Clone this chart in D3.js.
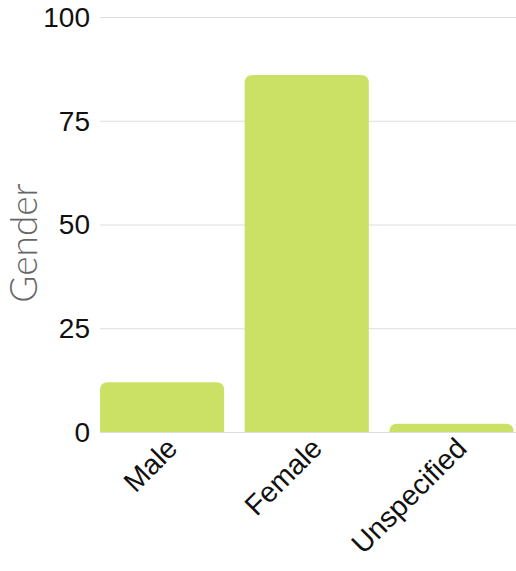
<!DOCTYPE html>
<html>
<head>
<meta charset="utf-8">
<script src="https://cdn.jsdelivr.net/npm/d3@7"></script>
<style>
  body { margin: 0; background: #fff; }
  svg { display: block; }
</style>
</head>
<body>
<svg id="chart" width="516" height="571"></svg>
<script>
const categories = ['Male', 'Female', 'Unspecified'];
const values     = [12, 86, 2];
const yTicks     = [0, 25, 50, 75, 100];

const WIDTH  = 516;
const HEIGHT = 571;
const LEFT   = 100;
const RIGHT  = 513.5;
const TOP    = 17;
const BOTTOM = 432;

const svg = d3.select('#chart');

const x = d3.scaleBand()
    .domain(categories)
    .range([LEFT, RIGHT])
    .paddingInner(0.142)
    .paddingOuter(0);

const y = d3.scaleLinear()
    .domain([0, 100])
    .range([BOTTOM, TOP]);

// gridlines
svg.append('g')
    .selectAll('line')
    .data(yTicks)
    .join('line')
    .attr('x1', LEFT)
    .attr('x2', WIDTH)
    .attr('y1', d => y(d) + 0.5)
    .attr('y2', d => y(d) + 0.5)
    .attr('stroke', '#dddddd')
    .attr('stroke-width', 1);

// y tick labels
svg.append('g')
    .selectAll('text')
    .data(yTicks)
    .join('text')
    .attr('x', 90)
    .attr('y', d => y(d))
    .attr('dy', '0.35em')
    .attr('text-anchor', 'end')
    .attr('font-family', 'Liberation Sans, Arial, sans-serif')
    .attr('font-size', 28)
    .attr('fill', '#111')
    .text(d => d);

// bars with rounded top corners
const R = 8;
function barPath(x0, w, top, bottom) {
    const r = Math.min(R, (bottom - top), w / 2);
    return `M${x0},${bottom}V${top + r}Q${x0},${top} ${x0 + r},${top}` +
           `H${x0 + w - r}Q${x0 + w},${top} ${x0 + w},${top + r}V${bottom}Z`;
}

svg.append('g')
    .selectAll('path')
    .data(categories)
    .join('path')
    .attr('d', (d, i) => barPath(x(d), x.bandwidth(), y(values[i]), y(0)))
    .attr('fill', '#cae166');

// x tick labels, rotated
svg.append('g')
    .selectAll('text')
    .data(categories)
    .join('text')
    .attr('transform', d => `translate(${x(d) + x.bandwidth() / 2 + 17},${BOTTOM + 18}) rotate(-45)`)
    .attr('text-anchor', 'end')
    .attr('font-family', 'Liberation Sans, Arial, sans-serif')
    .attr('font-size', 28.5)
    .attr('fill', '#111')
    .text(d => d);

// y axis title
svg.append('text')
    .attr('transform', `translate(37,243) rotate(-90)`)
    .attr('text-anchor', 'middle')
    .attr('font-family', 'Lato, sans-serif')
    .attr('font-weight', 300)
    .attr('font-size', 37)
    .attr('fill', '#666')
    .text('Gender');
</script>
</body>
</html>
